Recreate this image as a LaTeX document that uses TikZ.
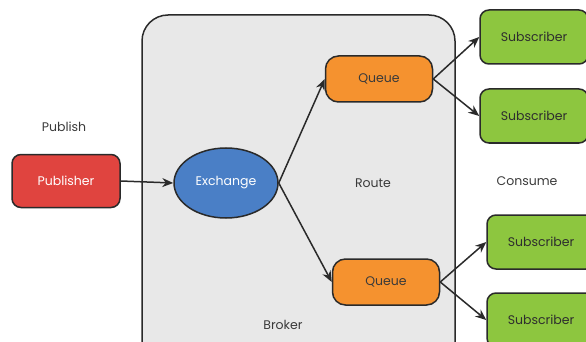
\documentclass[tikz,border=0pt]{standalone}
\usepackage{fontspec}
\setmainfont{Poppins}
\usetikzlibrary{arrows.meta,shapes.geometric}
\definecolor{pubred}{HTML}{E0443F}
\definecolor{exblue}{HTML}{4A7FC6}
\definecolor{qorange}{HTML}{F5922F}
\definecolor{subgreen}{HTML}{8DC63F}
\definecolor{brokergray}{HTML}{E8E8E8}
\definecolor{edge}{HTML}{2A2A2A}
\definecolor{txt}{HTML}{3A3A3A}
\tikzset{
  box/.style={draw=edge, line width=1.5pt, rounded corners=9pt, inner sep=0pt, font=\fontsize{12.5}{14}\selectfont},
  pubbox/.style={box, fill=pubred, text=white, minimum width=108pt, minimum height=53pt},
  queuebox/.style={box, fill=qorange, text=txt, rounded corners=13pt, minimum width=107pt, minimum height=46pt},
  subbox/.style={box, fill=subgreen, text=txt!80!black, minimum width=108pt, minimum height=54pt},
  label/.style={text=txt, font=\fontsize{12.5}{14}\selectfont},
  link/.style={draw=edge, line width=1.5pt, -{Stealth[length=11pt,width=9pt]}}
}
\begin{document}
\begin{tikzpicture}[x=1pt,y=-1pt]
  \useasboundingbox (0,0) rectangle (586,342);
  \clip (0,0) rectangle (586,342);
  % broker area
  \draw[draw=edge, line width=1.5pt, fill=brokergray, rounded corners=26pt]
    (142,375) rectangle (455,15);
  \node[label] (broker) at (283,325) {Broker};
  \node[label] (route) at (373,183) {Route};
  \node[label] (publish) at (64,127) {Publish};
  \node[label] (consume) at (527,181) {Consume};
  % nodes
  \node[pubbox] (pub) at (66,181) {Publisher};
  \node[ellipse, draw=edge, line width=1.5pt, fill=exblue, text=white,
        minimum width=104pt, minimum height=70pt, inner sep=0pt,
        font=\fontsize{12.5}{14}\selectfont] (ex) at (226,183) {Exchange};
  \node[queuebox] (q1) at (379,79) {Queue};
  \node[queuebox] (q2) at (386,282) {Queue};
  \node[subbox] (s1) at (534,37) {Subscriber};
  \node[subbox] (s2) at (534,116) {Subscriber};
  \node[subbox] (s3) at (541,242) {Subscriber};
  \node[subbox] (s4) at (541,320) {Subscriber};
  % connectors
  \draw[link] (pub.east) -- (ex.west);
  \draw[link] (ex.east) -- (q1.west);
  \draw[link] (ex.east) -- (q2.west);
  \draw[link] (q1.east) -- (s1.west);
  \draw[link] (q1.east) -- (s2.west);
  \draw[link] (q2.east) -- (s3.west);
  \draw[link] (q2.east) -- (s4.west);
\end{tikzpicture}
\end{document}
